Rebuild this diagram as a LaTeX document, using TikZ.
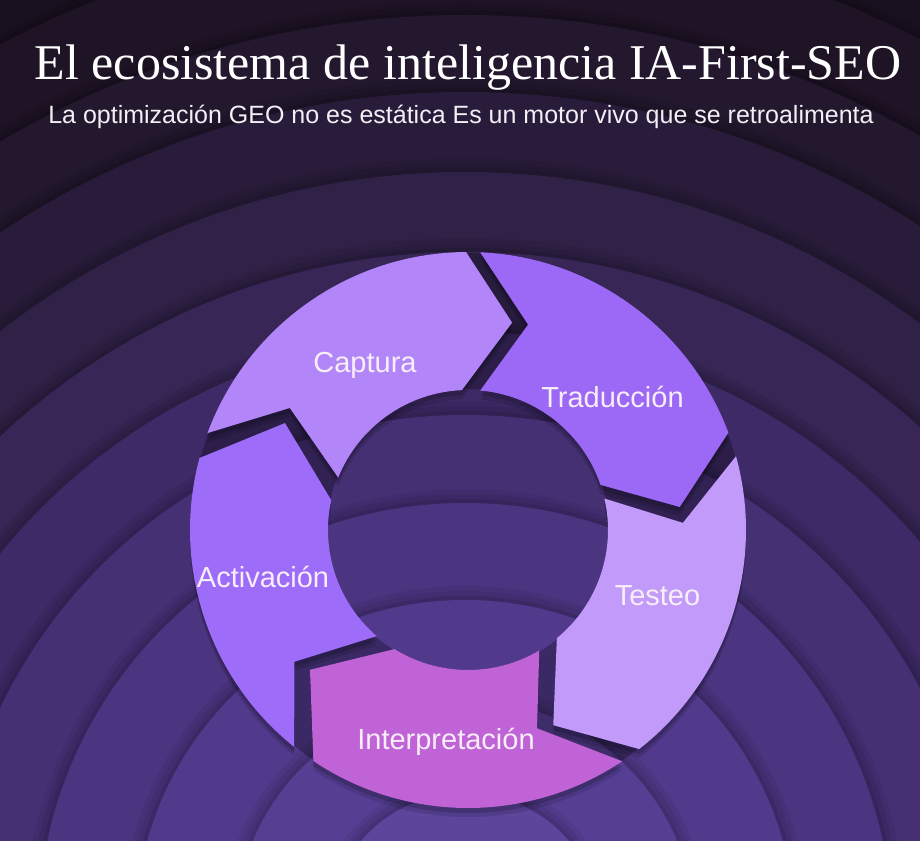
\documentclass[tikz,border=0pt]{standalone}
\usepackage{fontspec}
\setmainfont{Liberation Serif}
\newfontfamily\sansfam{Liberation Sans}
\definecolor{bgbase}{HTML}{1A1120}
\definecolor{bgA}{HTML}{1E1426}
\definecolor{bgB}{HTML}{23182E}
\definecolor{bgC}{HTML}{291C3A}
\definecolor{bgD}{HTML}{302147}
\definecolor{bgE}{HTML}{372656}
\definecolor{bgF}{HTML}{3E2A66}
\definecolor{bgG}{HTML}{453074}
\definecolor{bgH}{HTML}{4B3580}
\definecolor{bgI}{HTML}{513A8B}
\definecolor{bgJ}{HTML}{563F93}
\definecolor{bgK}{HTML}{5C459B}
\definecolor{capcol}{HTML}{B286F9}
\definecolor{tradcol}{HTML}{9C69F6}
\definecolor{testcol}{HTML}{C29AFA}
\definecolor{intcol}{HTML}{C063D7}
\definecolor{actcol}{HTML}{9D6CF8}
\definecolor{labelcol}{HTML}{F7EEF8}
\definecolor{subcol}{HTML}{F3EFF6}
% #1 style, #2 tail outer angle, #3 tail inner angle, #4 notch angle, #5 notch radius,
% #6 head outer angle, #7 head inner angle, #8 tip angle, #9 tip radius
\newcommand{\ringpath}[9]{\fill[#1] (#2:278pt) arc[start angle=#2,end angle=#6,radius=278pt] -- (#8:#9pt) -- (#7:140pt) arc[start angle=#7,end angle=#3,radius=140pt] -- (#4:#5pt) -- cycle;}
\begin{document}
\begin{tikzpicture}[x=1pt,y=1pt,
  lbl/.style={font=\sansfam\fontsize{29pt}{34pt}\selectfont, text=labelcol, anchor=base, inner sep=0pt},
  pshadowA/.style={black,opacity=0.12,yshift=-9pt},
  pshadowB/.style={black,opacity=0.16,yshift=-5pt}]
\useasboundingbox (-468,-310) rectangle (452,530);
\begin{scope}
\clip (-468,-310) rectangle (452,530);
\fill[bgbase] (-468,-310) rectangle (452,530);
\foreach \rad/\col in {1000/bgA,915/bgB,838/bgC,758/bgD,678/bgE,598/bgF,515/bgG,427/bgH,330/bgI,230/bgJ,137/bgK}{
  \fill[black,opacity=0.06] (-3,-400) circle[radius={\rad pt+14pt}];
  \fill[black,opacity=0.07] (-3,-400) circle[radius={\rad pt+9pt}];
  \fill[black,opacity=0.08] (-3,-400) circle[radius={\rad pt+4pt}];
  \fill[\col] (-3,-400) circle[radius={\rad pt}];
}
\end{scope}
% dark gaps between pieces
\fill[black,opacity=0.28,even odd rule] (0,0) circle[radius=277pt] (0,0) circle[radius=141pt];
% shadows
\ringpath{pshadowA}{159.6}{158}{145.6}{216}{90.4}{92.5}{78}{212}
\ringpath{pshadowA}{87.5}{85}{73.7}{214}{20.5}{18.8}{6.2}{213}
\ringpath{pshadowA}{15.4}{13}{1.9}{215}{-52}{-50.6}{-66.4}{213}
\ringpath{pshadowA}{-56.3}{-59.4}{-70.8}{210}{-123.8}{-121.7}{-138.5}{211}
\ringpath{pshadowA}{-128.7}{-130.7}{-142.8}{218}{-195}{-192.3}{-210.3}{212}
\ringpath{pshadowB}{159.6}{158}{145.6}{216}{90.4}{92.5}{78}{212}
\ringpath{pshadowB}{87.5}{85}{73.7}{214}{20.5}{18.8}{6.2}{213}
\ringpath{pshadowB}{15.4}{13}{1.9}{215}{-52}{-50.6}{-66.4}{213}
\ringpath{pshadowB}{-56.3}{-59.4}{-70.8}{210}{-123.8}{-121.7}{-138.5}{211}
\ringpath{pshadowB}{-128.7}{-130.7}{-142.8}{218}{-195}{-192.3}{-210.3}{212}
% pieces
\ringpath{capcol}{159.6}{158}{145.6}{216}{90.4}{92.5}{78}{212}
\ringpath{tradcol}{87.5}{85}{73.7}{214}{20.5}{18.8}{6.2}{213}
\ringpath{testcol}{15.4}{13}{1.9}{215}{-52}{-50.6}{-66.4}{213}
\ringpath{intcol}{-56.3}{-59.4}{-70.8}{210}{-123.8}{-121.7}{-138.5}{211}
\ringpath{actcol}{-128.7}{-130.7}{-142.8}{218}{-195}{-192.3}{-210.3}{212}
% labels
\node[lbl] (captura) at (-103,157) {Captura};
\node[lbl] (traduccion) at (144.5,122) {Traducción};
\node[lbl] (testeo) at (189.5,-75) {Testeo};
\node[lbl] (interpretacion) at (-22,-219) {Interpretación};
\node[lbl] (activacion) at (-205,-57) {Activación};
% title and subtitle
\node[font=\fontsize{50pt}{60pt}\selectfont, text=white, anchor=base, inner sep=0pt] (title) at (0,450) {El ecosistema de inteligencia IA-First-SEO};
\node[font=\sansfam\fontsize{25pt}{30pt}\selectfont, text=subcol, anchor=base, inner sep=0pt] (subtitle) at (-7,406) {La optimización GEO no es estática Es un motor vivo que se retroalimenta};
\end{tikzpicture}
\end{document}
